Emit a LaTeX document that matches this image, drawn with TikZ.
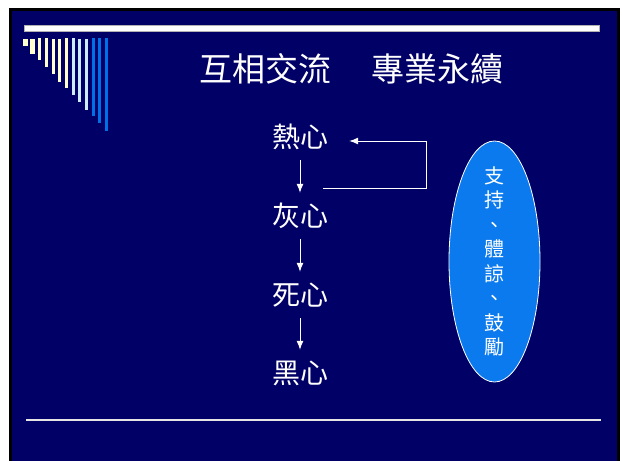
\documentclass[tikz,border=0pt]{standalone}
\usepackage{fontspec}
\newfontfamily\cjk{Noto Sans CJK TC}
\usetikzlibrary{shapes.geometric,arrows.meta}
\definecolor{navy}{RGB}{0,0,102}
\definecolor{paleyellow}{RGB}{255,255,204}
\definecolor{paleblue}{RGB}{204,236,255}
\definecolor{brightblue}{RGB}{0,112,230}
\definecolor{ovalblue}{RGB}{10,122,238}
\tikzset{
  stage/.style={text=white,font=\cjk\fontsize{28}{34}\selectfont,inner sep=0pt,minimum height=46pt},
  flow/.style={white,line width=1pt,-{Latex[length=9pt,width=7pt]}},
}

\begin{document}
\begin{tikzpicture}[x=1pt,y=-1pt]
    %% slide
    \fill[white] (0,0) rectangle (622,461);
    \fill[black] (9,8) rectangle (620,461);
    \fill[navy] (12,11) rectangle (617,461);
    \useasboundingbox (0,0) rectangle (622,461);
    %% rules
    \draw[fill=white,draw=gray!60!white] (24,25) rectangle (599,31);
    \draw[line width=2pt,white!80!gray] (26,420) -- (601,420);
    %% stripes
    \foreach \x/\w/\y/\h/\col in {23/5/39/46/paleyellow,30/5/39/54/paleyellow,
        38/3/38/60/paleyellow,45/3/38/67/paleyellow,52/3/39/74/paleyellow,
        58/3/39/82/paleyellow,65/3/38/88/paleyellow,72/3/38/95/paleblue,
        78/3/39/102/paleblue,85/3/39/110/paleblue,92/3/38/116/brightblue,
        98/3/38/123/brightblue,105/3/38/131/brightblue}
        \fill[\col] (\x,\y) rectangle ({\x+\w},\h);
    %% title
    \node[text=white,font=\cjk\fontsize{33}{38}\selectfont] (title) at (351.5,69) {互相交流\hspace{8pt}　專業永續};
    %% stages
    \node[stage] (hot) at (300,137) {熱心};
    \node[stage] (grey) at (300,216) {灰心};
    \node[stage] (dead) at (300,295) {死心};
    \node[stage] (dark) at (300,373) {黑心};
    \draw[flow] (hot) -- (grey);
    \draw[flow] (grey) -- (dead);
    \draw[flow] (dead) -- (dark);
    \draw[flow] ([xshift=23pt,yshift=4pt]grey.north) -- ++(103,0) |- ([xshift=21pt,yshift=-4pt]hot.east);
    %% support
    \node[ellipse,fill=ovalblue,draw=white,line width=0.8pt,minimum width=91pt,minimum height=241pt,
        inner xsep=0pt,inner ysep=-30pt,text=white,align=center,font=\cjk\fontsize{20}{24.5}\selectfont]
        (support) at (494.5,261.5) {支\\持\\、\\體\\諒\\、\\鼓\\勵};
\end{tikzpicture}
\end{document}
